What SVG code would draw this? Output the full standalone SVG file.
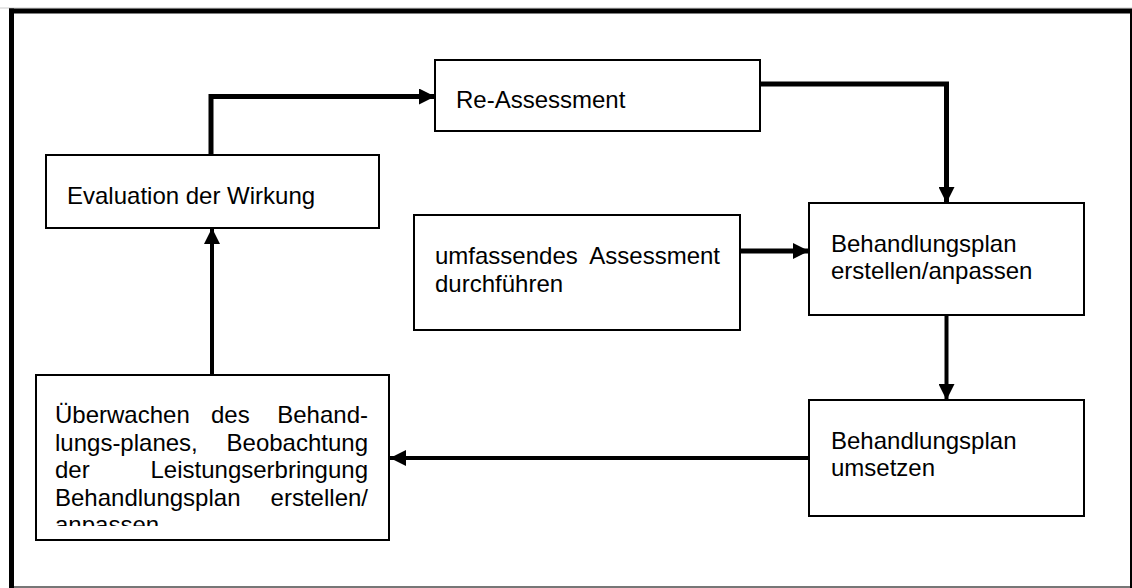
<svg xmlns="http://www.w3.org/2000/svg" width="1132" height="588" viewBox="0 0 1132 588">
<style>
.box{fill:#fff;stroke:#000;stroke-width:2}
.t{font-family:"Liberation Sans",Arial,sans-serif;font-size:24px;fill:#000}
.c{fill:none;stroke:#000;stroke-width:5;stroke-linejoin:miter}
.c4{fill:none;stroke:#000;stroke-width:4}
</style>
<defs>
<marker id="ah" viewBox="0 0 16 16" refX="16" refY="8" markerWidth="16" markerHeight="16" markerUnits="userSpaceOnUse" orient="auto">
<path d="M0,0 L16,8 L0,16 Z" fill="#000"/>
</marker>
<clipPath id="clipU"><rect x="36" y="375" width="353" height="151"/></clipPath>
</defs>
<rect x="0" y="0" width="1132" height="588" fill="#fff"/>
<g id="frame">
<line x1="0" y1="8" x2="1132" y2="8" stroke="#ccc" stroke-width="1"/>
<line x1="9" y1="587" x2="1132" y2="587" stroke="#777" stroke-width="2"/>
<line x1="1131" y1="11" x2="1131" y2="588" stroke="#000" stroke-width="2"/>
<line x1="9" y1="11" x2="1132" y2="11" stroke="#000" stroke-width="5"/>
<line x1="11.5" y1="8.5" x2="11.5" y2="588" stroke="#000" stroke-width="5"/>
</g>
<g id="connectors">
<path class="c" d="M211,155 V96.5 H435" marker-end="url(#ah)"/>
<path class="c" d="M760,84 H946.5 V203" marker-end="url(#ah)"/>
<path class="c" d="M740,251 H809" marker-end="url(#ah)"/>
<path class="c4" d="M946.5,315 V400" marker-end="url(#ah)"/>
<path class="c4" d="M809,458 H390" marker-end="url(#ah)"/>
<path class="c4" d="M212,375 V228" marker-end="url(#ah)"/>
</g>
<g id="evaluation">
<rect class="box" x="46" y="155" width="333" height="73"/>
<text class="t" x="67" y="204">Evaluation der Wirkung</text>
</g>
<g id="reassessment">
<rect class="box" x="435" y="60" width="325" height="71"/>
<text class="t" x="456" y="108">Re-Assessment</text>
</g>
<g id="umfassend">
<rect class="box" x="414" y="215" width="326" height="115"/>
<text class="t" x="435" y="264">umfassendes</text>
<text class="t" x="720" y="264" text-anchor="end">Assessment</text>
<text class="t" x="435" y="291.5">durchführen</text>
</g>
<g id="erstellen">
<rect class="box" x="809" y="203" width="275" height="112"/>
<text class="t" x="831" y="252">Behandlungsplan</text>
<text class="t" x="831" y="279">erstellen/anpassen</text>
</g>
<g id="umsetzen">
<rect class="box" x="809" y="400" width="275" height="116"/>
<text class="t" x="831" y="449">Behandlungsplan</text>
<text class="t" x="831" y="476">umsetzen</text>
</g>
<g id="ueberwachen">
<rect class="box" x="36" y="375" width="353" height="165"/>
<g clip-path="url(#clipU)">
<text class="t" x="55" y="423">Überwachen</text>
<text class="t" x="211" y="423">des</text>
<text class="t" x="368" y="423" text-anchor="end">Behand-</text>
<text class="t" x="55" y="450.5">lungs-planes,</text>
<text class="t" x="368" y="450.5" text-anchor="end">Beobachtung</text>
<text class="t" x="55" y="478">der</text>
<text class="t" x="368" y="478" text-anchor="end">Leistungserbringung</text>
<text class="t" x="55" y="505.5">Behandlungsplan</text>
<text class="t" x="368" y="505.5" text-anchor="end">erstellen/</text>
<text class="t" x="55" y="533">anpassen</text>
</g>
</g>
</svg>
